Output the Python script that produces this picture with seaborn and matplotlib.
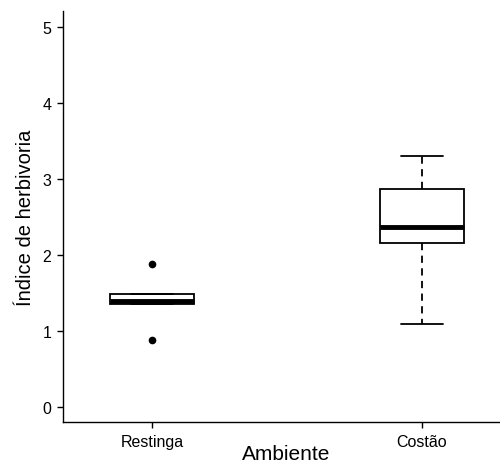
import numpy as np
import pandas as pd
import seaborn as sns
import matplotlib.pyplot as plt

# Herbivory index per environment
ambientes = ['Restinga', 'Costão']
restinga = [0.88, 1.36, 1.36, 1.40, 1.40, 1.40, 1.49, 1.49, 1.88]
costao = [1.09, 2.16, 2.16, 2.30, 2.37, 2.60, 2.87, 2.87, 3.30]
y_ticks = [0, 1, 2, 3, 4, 5]

df = pd.DataFrame({
    'Ambiente': [ambientes[0]] * len(restinga) + [ambientes[1]] * len(costao),
    'Indice': restinga + costao,
})

sns.set_style('white')
plt.rcParams['font.family'] = ['Liberation Sans', 'DejaVu Sans']

fig = plt.figure(figsize=(5, 4.64), dpi=100)
ax = fig.add_axes([0.126, 0.088, 0.874, 0.886])

sns.boxplot(
    data=df, x='Ambiente', y='Indice', order=ambientes, ax=ax,
    width=0.31, whis=1.6, color='white', linecolor='black', linewidth=1.3,
    boxprops=dict(facecolor='white', edgecolor='black'),
    whiskerprops=dict(linestyle=(0, (4, 3))),
    medianprops=dict(linewidth=3.5, color='black'),
    flierprops=dict(marker='o', markerfacecolor='black', markeredgecolor='black', markersize=4.5),
)

ax.set_xlim(-0.33, 1.29)
ax.set_ylim(-0.2, 5.21)
ax.set_yticks(y_ticks)
ax.set_yticklabels([str(t) for t in y_ticks])

ax.set_ylabel('Índice de herbivoria', fontsize=14.5, labelpad=5, color='black')
ax.tick_params(axis='both', direction='out', length=4.5, width=1, colors='black',
               labelsize=11.5, left=True, bottom=True)
ax.tick_params(axis='x', pad=4)
ax.tick_params(axis='y', pad=4)
ax.set_xlabel('')
fig.text(0.572, 0.0, 'Ambiente', fontsize=15, ha='center', va='bottom', color='black')

for side in ['top', 'right']:
    ax.spines[side].set_visible(False)
for side in ['left', 'bottom']:
    ax.spines[side].set_color('black')
    ax.spines[side].set_linewidth(1)

fig.savefig('out.png', dpi=100)
